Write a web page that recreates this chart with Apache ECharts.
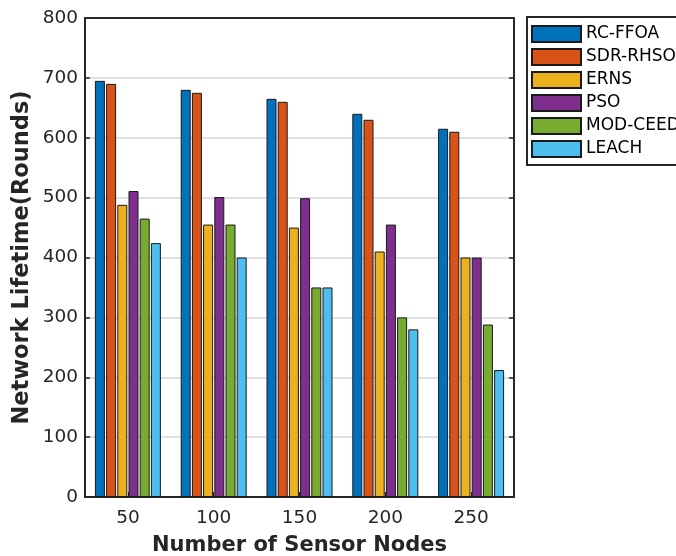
<!DOCTYPE html>
<html>
<head>
<meta charset="utf-8">
<script src="https://cdn.jsdelivr.net/npm/echarts@6/dist/echarts.min.js"></script>
<style>
html,body{margin:0;padding:0;background:#fff;}
#c{width:676px;height:556px;}
</style>
</head>
<body>
<div id="c"></div>
<script>
var categories = ['50', '100', '150', '200', '250'];
var seriesNames = ['RC-FFOA', 'SDR-RHSO', 'ERNS', 'PSO', 'MOD-CEED', 'LEACH'];
var rcFfoa  = [695, 680, 665, 640, 615];
var sdrRhso = [690, 675, 660, 630, 610];
var erns    = [488, 455, 450, 410, 400];
var pso     = [511, 501, 499, 455, 400];
var modCeed = [465, 455, 350, 300, 288];
var leach   = [424, 400, 350, 280, 212];
var yTicks  = [0, 100, 200, 300, 400, 500, 600, 700, 800];

var colors = ['#0072BD', '#D95319', '#EDB120', '#7E2F8E', '#77AC30', '#4DBEEE'];
var values = [rcFfoa, sdrRhso, erns, pso, modCeed, leach];
var FONT = 'DejaVu Sans';

var chart = echarts.init(document.getElementById('c'), null, {renderer: 'canvas'});
var series = values.map(function (v, i) {
  return {
    name: seriesNames[i],
    type: 'bar',
    data: v,
    barWidth: 10,
    barGap: '12%',
    itemStyle: {color: colors[i], borderColor: '#1a1a1a', borderWidth: 1},
    emphasis: {disabled: true}
  };
});

chart.setOption({
  animation: false,
  backgroundColor: '#ffffff',
  grid: {left: 85, right: 162, top: 18, bottom: 59, containLabel: false, outerBoundsMode: 'none'},
  legend: {
    orient: 'vertical',
    left: 527,
    top: 17,
    padding: [8, 4, 7, 4],
    itemWidth: 49,
    itemHeight: 16,
    itemGap: 5,
    borderColor: '#262626',
    borderWidth: 2,
    backgroundColor: '#ffffff',
    icon: 'rect',
    textStyle: {fontFamily: FONT, fontSize: 17, color: '#000', lineHeight: 16, padding: [0, 0, 0, 0]},
    data: seriesNames
  },
  xAxis: [{
    type: 'category',
    data: categories,
    name: 'Number of Sensor Nodes',
    nameLocation: 'middle',
    nameGap: 38,
    nameMoveOverlap: false,
    nameTextStyle: {fontFamily: FONT, fontSize: 21, fontWeight: 'bold', color: '#262626'},
    axisLine: {lineStyle: {color: '#262626', width: 2}},
    axisTick: {show: true, inside: true, alignWithLabel: true, length: 5, lineStyle: {color: '#262626', width: 1}},
    axisLabel: {fontFamily: FONT, fontSize: 18.5, color: '#262626', margin: 12},
    splitLine: {show: false}
  }, {
    type: 'category',
    data: categories,
    position: 'top',
    axisLine: {show: true, onZero: false, lineStyle: {color: '#262626', width: 2}},
    axisTick: {show: false},
    axisLabel: {show: false},
    splitLine: {show: false}
  }],
  yAxis: [{
    type: 'value',
    min: 0,
    max: 800,
    interval: 100,
    name: 'Network Lifetime(Rounds)',
    nameLocation: 'middle',
    nameGap: 51,
    nameMoveOverlap: false,
    nameTextStyle: {fontFamily: FONT, fontSize: 22.5, fontWeight: 'bold', color: '#262626'},
    axisLine: {show: true, lineStyle: {color: '#262626', width: 2}},
    axisTick: {show: true, inside: true, length: 5, lineStyle: {color: '#262626', width: 1.5}},
    axisLabel: {fontFamily: FONT, fontSize: 18.5, color: '#262626', margin: 7,
      formatter: function (v) { return yTicks.indexOf(v) >= 0 ? String(v) : ''; }},
    splitLine: {show: true, lineStyle: {color: '#e0e0e0', width: 2}}
  }, {
    type: 'value',
    min: 0,
    max: 800,
    interval: 100,
    position: 'right',
    axisLine: {show: true, lineStyle: {color: '#262626', width: 2}},
    axisTick: {show: true, inside: true, length: 5, lineStyle: {color: '#262626', width: 1.5}},
    axisLabel: {show: false},
    splitLine: {show: false}
  }],
  series: series
});
</script>
</body>
</html>
